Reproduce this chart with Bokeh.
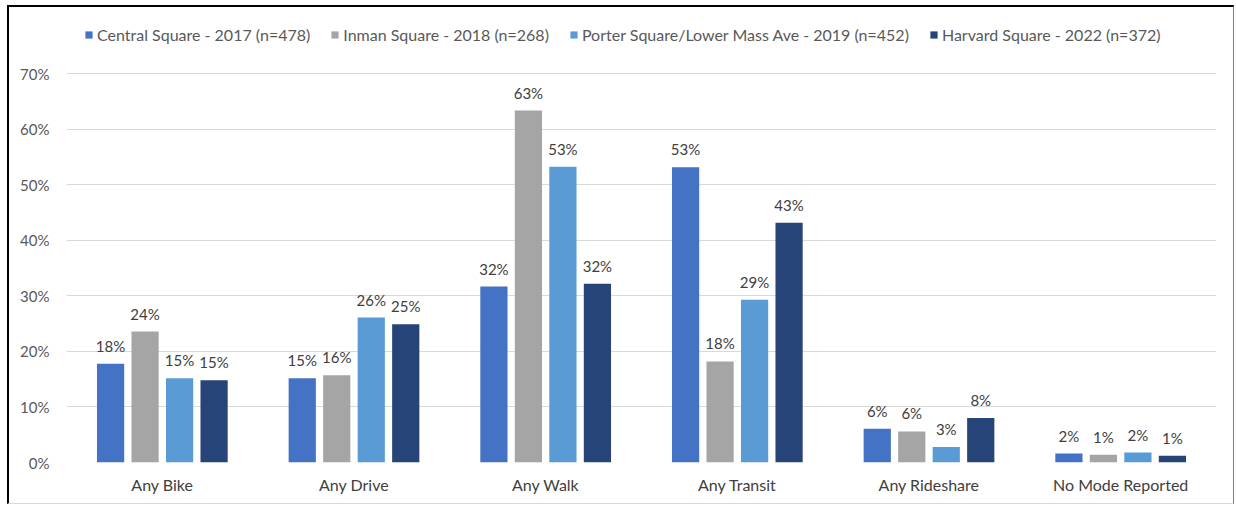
from bokeh.plotting import figure
from bokeh.models import (ColumnDataSource, FactorRange, Range1d, Legend, LegendItem,
                          NumeralTickFormatter, FixedTicker)
from bokeh.transform import dodge
from bokeh.core.properties import value
from bokeh.embed import file_html
from bokeh.resources import INLINE

categories = ["Any Bike", "Any Drive", "Any Walk", "Any Transit", "Any Rideshare", "No Mode Reported"]
series_names = ["Central Square - 2017 (n=478)", "Inman Square - 2018 (n=268)",
                "Porter Square/Lower Mass Ave - 2019 (n=452)", "Harvard Square - 2022 (n=372)"]
central = [0.178, 0.152, 0.317, 0.532, 0.061, 0.016]
inman = [0.236, 0.157, 0.634, 0.182, 0.056, 0.014]
porter = [0.152, 0.261, 0.533, 0.293, 0.028, 0.018]
harvard = [0.148, 0.249, 0.322, 0.432, 0.080, 0.012]
y_ticks = [0.0, 0.1, 0.2, 0.3, 0.4, 0.5, 0.6, 0.7]

colors = ["#4472C4", "#A5A5A5", "#5B9BD5", "#264478"]
offsets = [-0.27, -0.09, 0.09, 0.27]
all_series = [central, inman, porter, harvard]

FONT = "Lato"

# frame extends above 70% to hold the legend (no gridlines above 70%)
p = figure(x_range=FactorRange(*categories), y_range=Range1d(0, 0.8197),
           width=1227, height=499, output_backend="svg", toolbar_location=None,
           min_border_left=57, min_border_right=20, min_border_top=0, min_border_bottom=44)
p.styles = {"border-top": "2px solid #000000", "border-left": "2px solid #000000",
            "border-right": "1px solid #7f7f7f", "border-bottom": "1px solid #d9d9d9",
            "margin-top": "5px", "margin-left": "7px"}
p.outline_line_color = None
p.xgrid.grid_line_color = None
p.ygrid.grid_line_color = "#d9d9d9"
p.ygrid.grid_line_width = 1

data = {"cat": categories}
for i, s in enumerate(all_series):
    data[f"v{i}"] = s
    data[f"t{i}"] = [f"{round(v * 100):d}%" for v in s]
src = ColumnDataSource(data)

items = []
for i in range(4):
    r = p.vbar(x=dodge("cat", offsets[i], range=p.x_range), top=f"v{i}", width=0.142,
               source=src, fill_color=colors[i], line_color=None)
    p.text(x=dodge("cat", offsets[i], range=p.x_range), y=f"v{i}", text=f"t{i}", source=src,
           text_align="center", text_baseline="bottom", y_offset=-9,
           text_font=value(FONT), text_font_size="15px", text_color="#404040")
    items.append(LegendItem(label=series_names[i], renderers=[r]))

legend = Legend(items=items, location=(18, 418), orientation="horizontal",
                padding=0, margin=0, spacing=20, glyph_width=9, glyph_height=9,
                label_standoff=4, label_height=18,
                label_text_font=FONT, label_text_font_size="16px", label_text_color="#595959",
                border_line_color=None, background_fill_alpha=0)
p.add_layout(legend)

p.yaxis.ticker = FixedTicker(ticks=y_ticks)
p.yaxis.formatter = NumeralTickFormatter(format="0%")
for ax in (p.xaxis, p.yaxis):
    ax.axis_line_color = None
    ax.major_tick_line_color = None
    ax.minor_tick_line_color = None
    ax.major_label_text_font = FONT
    ax.major_label_text_font_size = "15px"
    ax.major_label_text_color = "#595959"
p.xaxis.major_label_text_color = "#404040"
p.xaxis.major_label_text_font_size = "16px"
p.yaxis.major_label_standoff = 11
p.xaxis.major_label_standoff = 6

open("out.html", "w").write(file_html(p, INLINE))
